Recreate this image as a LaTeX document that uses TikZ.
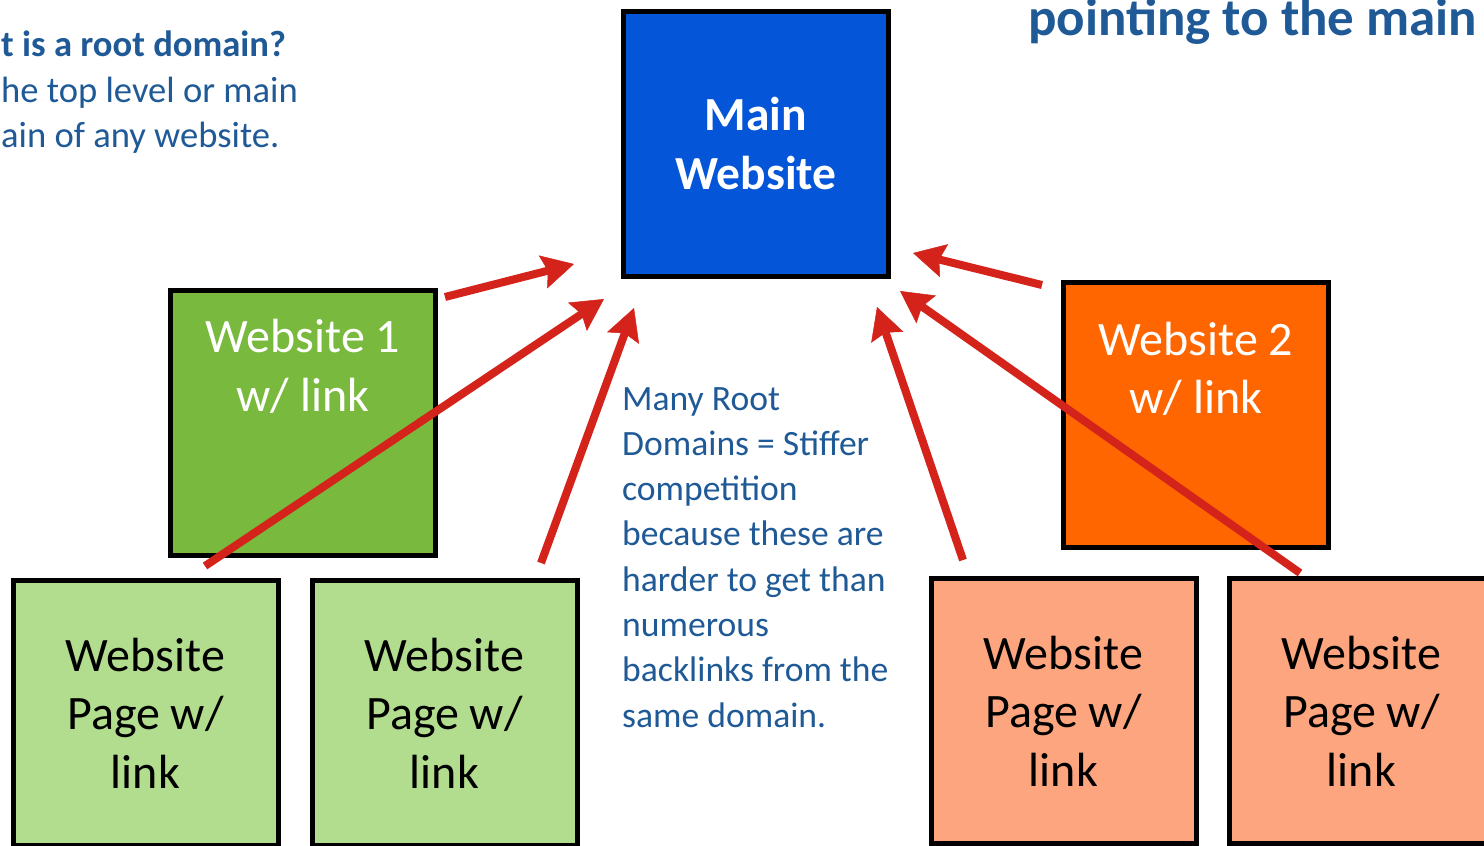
\documentclass[tikz,border=0pt]{standalone}
\usepackage{fontspec}
\setmainfont{Carlito}
\usetikzlibrary{arrows.meta}
\definecolor{mainblue}{RGB}{4,85,216}
\definecolor{siteone}{RGB}{121,185,61}
\definecolor{sitetwo}{RGB}{255,102,0}
\definecolor{pagegreen}{RGB}{179,221,142}
\definecolor{pageorange}{RGB}{252,165,126}
\definecolor{noteblue}{RGB}{31,90,151}
\definecolor{arrowred}{RGB}{212,35,26}

\begin{document}
\begin{tikzpicture}[x=1pt,y=-1pt,
	box/.style={draw=black,line width=5pt,minimum width=265pt,minimum height=265pt,inner sep=0pt,align=center},
	big/.style={font=\fontsize{48}{58.5}\selectfont},
	note/.style={text=noteblue,font=\fontsize{35.6}{45.3}\selectfont,align=left,inner sep=0pt}]

\useasboundingbox (0,0) rectangle (1484,846);
\clip (0,0) rectangle (1484,846);

\begin{scope}
	\node[box,fill=mainblue,text=white,font=\fontsize{47.5}{59}\selectfont\bfseries] (M) at (756,143.5) {Main\\Website};
	
	\node[box,fill=siteone] (W1) at (303,423) {};
	\node[box,fill=sitetwo] (W2) at (1196,415) {};
	\node[big,text=white,align=center] (W1t) at (303,366.5) {Website 1\\w/ link};
	\node[big,text=white,align=center] (W2t) at (1196,369) {Website 2\\w/ link};
	
	\node[box,big,fill=pagegreen] (P1) at (145.5,713) {Website\\Page w/\\link};
	\node[box,big,fill=pagegreen] (P2) at (444.5,713) {Website\\Page w/\\link};
	\node[box,big,fill=pageorange] (P3) at (1063.5,711) {Website\\Page w/\\link};
	\node[box,big,fill=pageorange] (P4) at (1361.5,711) {Website\\Page w/\\link};
	
	\node[note,font=\fontsize{36.6}{45.3}\selectfont,anchor=north west] (Q) at (1,31) {\textbf{t is a root domain?}\\he top level or main\\ain of any website.};
	\node[text=noteblue,font=\fontsize{53}{60}\selectfont\bfseries,anchor=base west,inner sep=0pt] (T) at (1028,35) {pointing to the main};
	\node[note,anchor=north west] (N) at (622,387) {Many Root\\Domains = Stiffer\\competition\\because these are\\harder to get than\\numerous\\backlinks from the\\same domain.};
\end{scope}

\begin{scope}[>={Stealth[length=32pt,width=34pt,inset=5pt,line width=0.5pt]}, every edge/.style={draw=arrowred,line width=8pt}]
	\coordinate (s1) at (445,297);  \coordinate (e1) at (574,264);
	\coordinate (s2) at (205,566);  \coordinate (e2) at (604,299);
	\coordinate (s3) at (541,563);  \coordinate (e3) at (634,308);
	\coordinate (s4) at (1042,285); \coordinate (e4) at (913,253);
	\coordinate (s5) at (963,560);  \coordinate (e5) at (877,307);
	\coordinate (s6) at (1300,573); \coordinate (e6) at (900,291);
	
	\path [->] (s1) edge (e1);
	\path [->] (s2) edge (e2);
	\path [->] (s3) edge (e3);
	
	\path [->] (s4) edge (e4);
	\path [->] (s5) edge (e5);
	\path [->] (s6) edge (e6);
\end{scope}

\end{tikzpicture}
\end{document}
